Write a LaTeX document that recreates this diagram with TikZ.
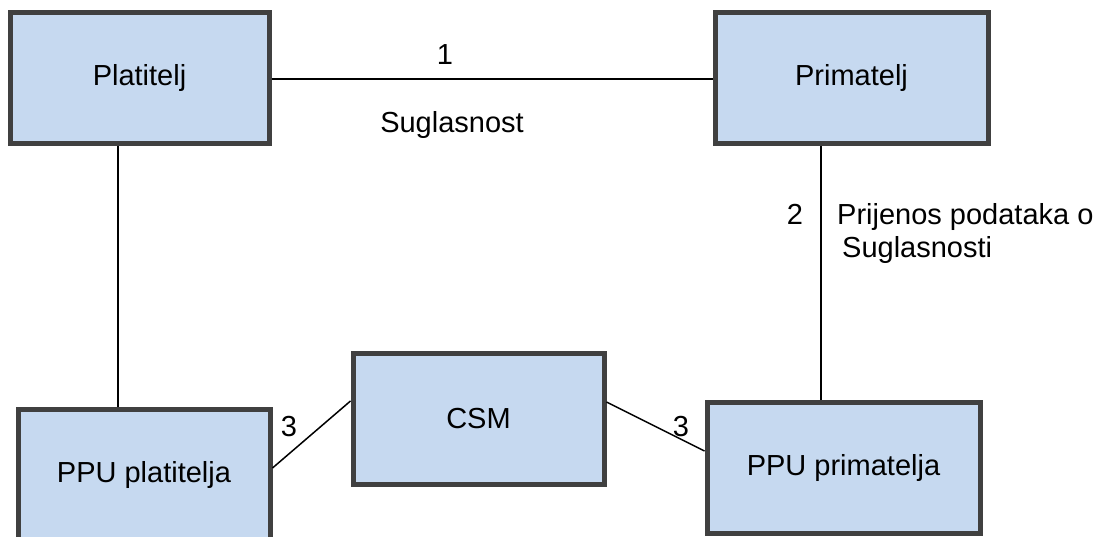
\documentclass[tikz,border=0pt]{standalone}
\usepackage{fontspec}
\setmainfont{Liberation Sans}
\definecolor{boxfill}{HTML}{C6D9F0}
\definecolor{boxline}{HTML}{404040}
\begin{document}
\begin{tikzpicture}[x=1pt,y=-1pt,
  every node/.style={font=\fontsize{29}{34}\selectfont},
  box/.style={draw=boxline, fill=boxfill, line width=5pt, inner sep=0pt},
  conn/.style={line width=1.5pt, black},
  lbl/.style={inner sep=0pt, anchor=base}]
\useasboundingbox (0,0) rectangle (1096,537);
\node[box, minimum width=259pt, minimum height=131pt] (plat) at (139.5,78.5) {Platitelj};
\node[box, minimum width=273pt, minimum height=131pt] (prim) at (851.5,78.5) {Primatelj};
\node[box, minimum width=251pt, minimum height=130pt] (csm) at (478.5,419) {CSM};
\node[box, minimum width=252pt, minimum height=131pt] (ppupl) at (144,475) {PPU platitelja};
\node[box, minimum width=273pt, minimum height=130pt] (ppupr) at (843.5,468) {PPU primatelja};

\draw[conn] ([yshift=-0.5pt]plat.east) -- ([yshift=-0.5pt]prim.west);
\draw[conn] ([xshift=-21.5pt]plat.south) -- ([xshift=-26pt]ppupl.north);
\draw[conn] ([xshift=-30.5pt]prim.south) -- ([xshift=-22.5pt]ppupr.north);
\draw[conn] ([yshift=7pt]ppupl.east) -- ([yshift=18pt]csm.west);
\draw[conn] ([yshift=17pt]csm.east) -- ([yshift=17pt]ppupr.west);

\node[lbl] (l1) at (445,65) {1};
\node[lbl] (lsug) at (452,132.7) {Suglasnost};
\node[lbl] (l2) at (795,225) {2};
\node[lbl, anchor=base west] (lprij) at (837,225) {Prijenos podataka o};
\node[lbl, anchor=base west] (lsug2) at (842,258) {Suglasnosti};
\node[lbl] (l3a) at (289,436.7) {3};
\node[lbl] (l3b) at (681,436.7) {3};
\end{tikzpicture}
\end{document}
